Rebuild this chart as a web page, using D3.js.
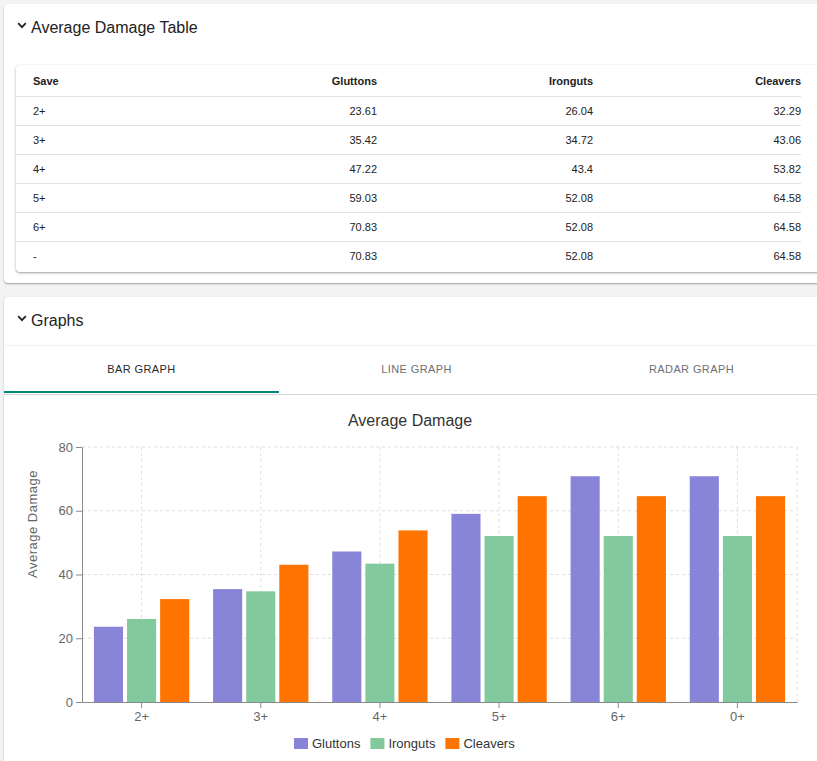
<!DOCTYPE html>
<html>
<head>
<meta charset="utf-8">
<script src="https://cdn.jsdelivr.net/npm/d3@7"></script>
<style>
  html, body { margin: 0; padding: 0; }
  body {
    width: 817px; height: 761px; overflow: hidden; position: relative;
    background: #f3f3f3; font-family: "Liberation Sans", Arial, sans-serif; color: #222;
  }
  .card {
    position: absolute; left: 4px; width: 840px; background: #fff; border-radius: 4px;
    box-shadow: 0 1px 2px rgba(0,0,0,0.25), 0 1px 1px rgba(0,0,0,0.12);
  }
  .card-title { position: absolute; left: 27px; font-size: 16px; color: #222; }
  .chev { position: absolute; left: 13px; }
  .paper {
    position: absolute; left: 12px; top: 61px; width: 820px; background: #fff; border-radius: 4px;
    box-shadow: 0 1px 3px rgba(0,0,0,0.3), 0 1px 1px rgba(0,0,0,0.1);
  }
  table { border-collapse: collapse; table-layout: fixed; width: 785px; font-size: 11px; }
  th, td { height: 28px; padding: 0; border-bottom: 1px solid #e0e0e0; }
  th { font-weight: bold; height: 31px; }
  tr:last-child td { border-bottom: none; }
  .tabs { position: absolute; left: 0; top: 48px; width: 840px; height: 48px;
    border-top: 1px solid #f1f1f1; border-bottom: 1px solid #d6d6d6; }
  .tab { position: absolute; top: 0; width: 275px; height: 48px; line-height: 46px; text-align: center;
    font-size: 11px; letter-spacing: 0.4px; color: #6f6f6f; }
  .tab.active { color: #2a2a2a; }
  .indicator { position: absolute; left: 0; top: 45px; width: 275px; height: 2px; background: #00897b; }
  #chart { position: absolute; left: 0; top: 394px; }
</style>
</head>
<body>
<div class="card" id="card1" style="top:4px;height:279px;"></div>
<div class="card" id="card2" style="top:297px;height:480px;"></div>
<svg id="chart" width="817" height="367"></svg>
<script>
var saves = ['2+', '3+', '4+', '5+', '6+', '-'];
var chartSaves = ['2+', '3+', '4+', '5+', '6+', '0+'];
var seriesNames = ['Gluttons', 'Ironguts', 'Cleavers'];
var gluttons = [23.61, 35.42, 47.22, 59.03, 70.83, 70.83];
var ironguts = [26.04, 34.72, 43.4, 52.08, 52.08, 52.08];
var cleavers = [32.29, 43.06, 53.82, 64.58, 64.58, 64.58];
var yTicks = [0, 20, 40, 60, 80];
var tabNames = ['Bar Graph', 'Line Graph', 'Radar Graph'];

var seriesValues = [gluttons, ironguts, cleavers];
var seriesColors = ['#8884d8', '#82ca9d', '#ff7300'];

function chevron(parent, top) {
    var s = parent.append('svg').attr('class', 'chev').style('top', top + 'px')
        .attr('width', 16).attr('height', 16);
    s.append('path').attr('d', 'M1.2 4.2 L5 8.2 L8.8 4.2').attr('fill', 'none')
        .attr('stroke', '#222').attr('stroke-width', 1.8);
}

// table card
var card1 = d3.select('#card1');
chevron(card1, 15);
card1.append('div').attr('class', 'card-title').style('top', '15px').text('Average Damage Table');

var table = card1.append('div').attr('class', 'paper').style('height', '207px').append('table');
var head = table.append('tr');
var colWidths = [200, 161, 216, 208];
['Save'].concat(seriesNames).forEach(function(h, i) {
    head.append('th').style('text-align', i === 0 ? 'left' : 'right')
        .style('padding-left', i === 0 ? '17px' : '0')
        .style('width', (i === 0 ? colWidths[i] - 17 : colWidths[i]) + 'px')
        .text(h);
});
saves.forEach(function(s, r) {
    var row = table.append('tr');
    row.append('td').style('padding-left', '17px').text(s);
    seriesValues.forEach(function(vals) {
        row.append('td').style('text-align', 'right').text(vals[r]);
    });
});

// graphs card
var card2 = d3.select('#card2');
chevron(card2, 15);
card2.append('div').attr('class', 'card-title').style('top', '15px').text('Graphs');
var tabs = card2.append('div').attr('class', 'tabs');
tabNames.forEach(function(t, i) {
    tabs.append('div').attr('class', 'tab' + (i === 0 ? ' active' : ''))
        .style('left', (i * 275) + 'px').text(t.toUpperCase());
});
tabs.append('div').attr('class', 'indicator');

// bar chart
var svg = d3.select('#chart');
var plotLeft = 82, plotRight = 797, plotTop = 53, plotBottom = 308;
var font = '"Liberation Sans", Arial, sans-serif';

var x0 = d3.scaleBand().domain(chartSaves).range([plotLeft, plotRight]);
var bw = x0.bandwidth();
var inner = bw * 0.8;
var step = (inner + 4) / 3;
var x1 = d3.scaleBand().domain(seriesNames).range([bw * 0.1, bw * 0.1 + inner])
    .paddingInner(4 / step).paddingOuter(0);
var y = d3.scaleLinear().domain([0, 80]).range([plotBottom, plotTop]);

var grid = svg.append('g').attr('stroke', '#dedede').attr('stroke-dasharray', '3 3');
grid.selectAll('line.h').data(yTicks.slice(1)).enter().append('line')
    .attr('x1', plotLeft).attr('x2', plotRight)
    .attr('y1', function(d) { return y(d); }).attr('y2', function(d) { return y(d); });
grid.selectAll('line.v').data(chartSaves).enter().append('line')
    .attr('x1', function(d) { return x0(d) + bw / 2; }).attr('x2', function(d) { return x0(d) + bw / 2; })
    .attr('y1', plotTop).attr('y2', plotBottom);
grid.append('line').attr('x1', plotRight).attr('x2', plotRight).attr('y1', plotTop).attr('y2', plotBottom);

var groups = svg.append('g').selectAll('g').data(chartSaves).enter().append('g')
    .attr('transform', function(d) { return 'translate(' + x0(d) + ',0)'; });
groups.selectAll('rect').data(function(d, i) {
    return seriesNames.map(function(n, k) { return { name: n, value: seriesValues[k][i], color: seriesColors[k] }; });
}).enter().append('rect')
    .attr('x', function(d) { return x1(d.name); })
    .attr('width', x1.bandwidth())
    .attr('y', function(d) { return y(d.value); })
    .attr('height', function(d) { return plotBottom - y(d.value); })
    .attr('fill', function(d) { return d.color; });

var yAxis = svg.append('g').attr('transform', 'translate(' + plotLeft + ',0)')
    .call(d3.axisLeft(y).tickValues(yTicks).tickSize(6).tickPadding(3).tickSizeOuter(0));
var xAxis = svg.append('g').attr('transform', 'translate(0,' + plotBottom + ')')
    .call(d3.axisBottom(x0).tickSize(6).tickPadding(4).tickSizeOuter(0));
[yAxis, xAxis].forEach(function(a) {
    a.selectAll('path, line').attr('stroke', '#8a8a8a');
    a.selectAll('text').attr('fill', '#666').style('font-family', font).style('font-size', '13px');
});

svg.append('text').attr('transform', 'translate(37,130) rotate(-90)')
    .attr('text-anchor', 'middle').attr('fill', '#666')
    .style('font-family', font).style('font-size', '13px').style('letter-spacing', '0.5px')
    .text('Average Damage');

svg.append('text').attr('x', 410).attr('y', 32).attr('text-anchor', 'middle')
    .attr('fill', '#333').style('font-family', font).style('font-size', '16px')
    .text('Average Damage');

// legend
var legend = svg.append('g');
var lx = 0;
seriesNames.forEach(function(n, k) {
    var item = legend.append('g').attr('transform', 'translate(' + lx + ',0)');
    item.append('rect').attr('x', 0).attr('y', -5).attr('width', 14).attr('height', 11).attr('fill', seriesColors[k]);
    var t = item.append('text').attr('x', 18).attr('y', 5).attr('fill', '#333')
        .style('font-family', font).style('font-size', '13px').text(n);
    lx += 18 + t.node().getComputedTextLength() + 10;
});
legend.attr('transform', 'translate(294,349)');
</script>
</body>
</html>
